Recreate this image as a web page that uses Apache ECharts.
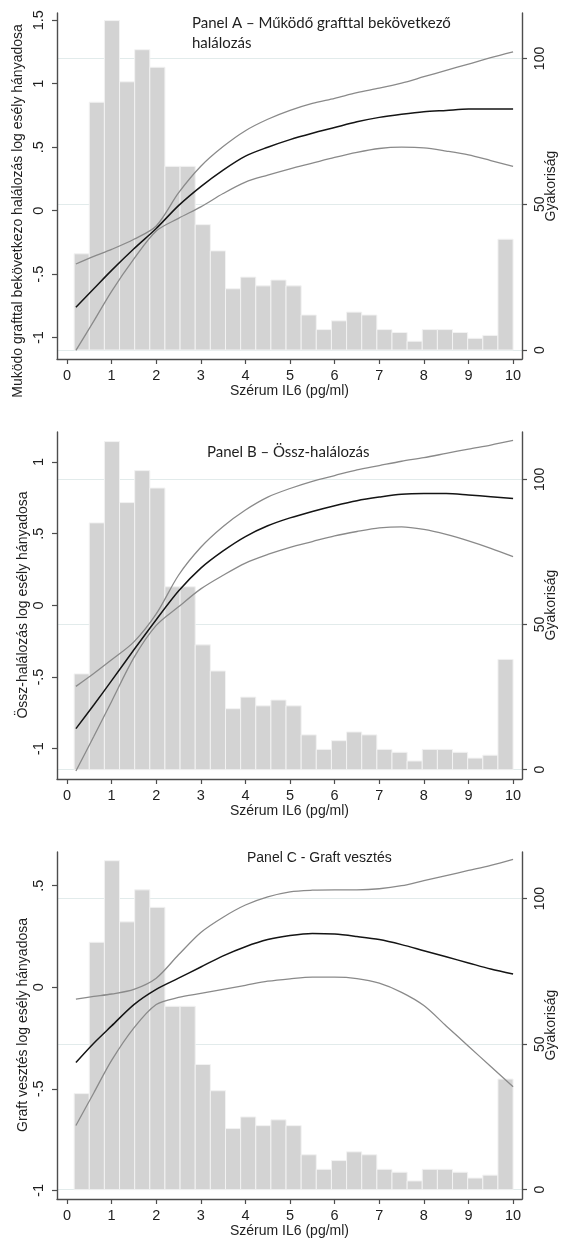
<!DOCTYPE html>
<html>
<head>
<meta charset="utf-8">
<script src="https://cdn.jsdelivr.net/npm/echarts@6/dist/echarts.min.js"></script>
<style>
  html, body { margin: 0; padding: 0; background: #ffffff; }
  #chart { width: 561px; height: 1241px; }
</style>
</head>
<body>
<div id="chart"></div>
<script>
// Serum IL-6 values (pg/ml) at which the spline estimates are given
const il6Grid = [0.2, 0.6, 1, 1.5, 2, 2.5, 3, 3.5, 4, 4.5, 5, 5.5, 6, 6.5, 7, 7.5, 8, 8.5, 9, 9.5, 10];

// Panel A – death with functioning graft: log odds ratio with 95% CI
const panelAFit   = [-0.76, -0.615, -0.47, -0.30, -0.14, 0.04, 0.19, 0.32, 0.43, 0.50, 0.56, 0.61, 0.655, 0.70, 0.735, 0.76, 0.78, 0.79, 0.80, 0.80, 0.80];
const panelAUpper = [-0.42, -0.36, -0.305, -0.225, -0.12, 0.14, 0.35, 0.505, 0.63, 0.72, 0.79, 0.845, 0.885, 0.93, 0.965, 1.005, 1.055, 1.105, 1.155, 1.205, 1.25];
const panelALower = [-1.10, -0.87, -0.635, -0.38, -0.16, -0.06, 0.03, 0.135, 0.225, 0.28, 0.33, 0.375, 0.42, 0.46, 0.49, 0.50, 0.495, 0.47, 0.44, 0.395, 0.35];

// Panel B – all-cause mortality
const panelBFit   = [-0.86, -0.695, -0.525, -0.31, -0.10, 0.10, 0.26, 0.38, 0.48, 0.555, 0.61, 0.655, 0.695, 0.73, 0.755, 0.775, 0.78, 0.78, 0.77, 0.758, 0.745];
const panelBUpper = [-0.565, -0.475, -0.38, -0.255, -0.06, 0.21, 0.405, 0.55, 0.665, 0.755, 0.815, 0.865, 0.905, 0.945, 0.975, 1.005, 1.03, 1.06, 1.09, 1.118, 1.15];
const panelBLower = [-1.155, -0.915, -0.67, -0.365, -0.14, -0.01, 0.115, 0.21, 0.295, 0.355, 0.405, 0.445, 0.485, 0.515, 0.54, 0.548, 0.53, 0.495, 0.45, 0.398, 0.34];

// Panel C – graft loss
const panelCFit   = [-0.37, -0.275, -0.19, -0.085, -0.01, 0.045, 0.10, 0.155, 0.20, 0.235, 0.255, 0.265, 0.262, 0.25, 0.235, 0.21, 0.18, 0.15, 0.12, 0.09, 0.065];
const panelCUpper = [-0.058, -0.045, -0.033, -0.01, 0.045, 0.16, 0.27, 0.345, 0.405, 0.445, 0.47, 0.478, 0.48, 0.48, 0.485, 0.50, 0.525, 0.55, 0.575, 0.60, 0.63];
const panelCLower = [-0.68, -0.52, -0.36, -0.20, -0.085, -0.05, -0.03, -0.01, 0.01, 0.03, 0.042, 0.05, 0.05, 0.043, 0.02, -0.025, -0.09, -0.19, -0.29, -0.39, -0.49];

// Histogram of serum IL-6 (same sample in every panel): 29 equal bins from 0.16 to 10
const histStart = 0.16;
const histEnd = 10;
const histCounts = [33, 85, 113, 92, 103, 97, 63, 63, 43, 34, 21, 25, 22, 24, 22, 12, 7, 10, 13, 12, 7, 6, 3, 7, 7, 6, 4, 5, 38];

// Tick labels
const xTicks = [0, 1, 2, 3, 4, 5, 6, 7, 8, 9, 10];
const freqTicks = [0, 50, 100];
const panelATicks = [-1, -0.5, 0, 0.5, 1, 1.5];
const panelBTicks = [-1, -0.5, 0, 0.5, 1];
const panelCTicks = [-1, -0.5, 0, 0.5];

const panelTitles = ['Panel A – Működő grafttal bekövetkező\nhalálozás', 'Panel B – Össz-halálozás', 'Panel C - Graft vesztés'];
const leftAxisTitles = ['Muködo grafttal bekövetkezo halálozás log esély hányadosa', 'Össz-halálozás log esély hányadosa', 'Graft vesztés log esély hányadosa'];
const rightAxisTitle = 'Gyakoriság';
const xAxisTitle = 'Szérum IL6 (pg/ml)';

const FONT = '"Liberation Sans", Arial, sans-serif';
const AXIS_COLOR = '#4d4d4d';
const TEXT_COLOR = '#1e1e1e';
const GRID_COLOR = '#e2ebeb';

const panels = [
  { fit: panelAFit, upper: panelAUpper, lower: panelALower, ticks: panelATicks,
    grid: { top: 13, bottom: 882 }, yRange: [-1.168, 1.557], fRange: [-3.09, 115.6] },
  { fit: panelBFit, upper: panelBUpper, lower: panelBLower, ticks: panelBTicks,
    grid: { top: 432, bottom: 462 }, yRange: [-1.211, 1.209], fRange: [-3.2, 116.3] },
  { fit: panelCFit, upper: panelCUpper, lower: panelCLower, ticks: panelCTicks,
    grid: { top: 852, bottom: 42 }, yRange: [-1.042, 0.666], fRange: [-3.2, 116.0] }
];

// Stata-style numbers: ".5" and "-.5"
function stataNum(v) {
  return String(v).replace(/^0\./, '.').replace(/^-0\./, '-.');
}

const binWidth = (histEnd - histStart) / histCounts.length;
const histData = histCounts.map((c, k) => [histStart + k * binWidth, histStart + (k + 1) * binWidth, c]);

const grids = [], xAxes = [], yAxes = [], series = [];

panels.forEach((p, i) => {
  grids.push({ left: 57, right: 39, top: p.grid.top, bottom: p.grid.bottom, containLabel: false });

  xAxes.push({
    type: 'value', gridIndex: i, min: -0.224, max: 10.2,
    name: xAxisTitle, nameLocation: 'middle', nameGap: 25,
    nameTextStyle: { fontFamily: FONT, fontSize: 14, color: TEXT_COLOR },
    axisLine: { show: true, onZero: false, lineStyle: { color: AXIS_COLOR, width: 1.4 } },
    axisTick: { show: true, customValues: xTicks, length: 5, lineStyle: { color: AXIS_COLOR, width: 1.2 } },
    axisLabel: { customValues: xTicks, fontFamily: FONT, fontSize: 14.5, color: TEXT_COLOR, margin: 9 },
    splitLine: { show: false }
  });

  yAxes.push({
    type: 'value', gridIndex: i, position: 'left', min: p.yRange[0], max: p.yRange[1],
    axisLine: { show: true, onZero: false, lineStyle: { color: AXIS_COLOR, width: 1.4 } },
    axisTick: { show: true, customValues: p.ticks, length: 5, lineStyle: { color: AXIS_COLOR, width: 1.2 } },
    axisLabel: { customValues: p.ticks, rotate: 90, margin: 11, fontFamily: FONT, fontSize: 14.5,
                 color: TEXT_COLOR, formatter: stataNum },
    splitLine: { show: false }
  });

  yAxes.push({
    type: 'value', gridIndex: i, position: 'right', min: p.fRange[0], max: p.fRange[1],
    axisLine: { show: true, onZero: false, lineStyle: { color: AXIS_COLOR, width: 1.4 } },
    axisTick: { show: true, customValues: freqTicks, length: 5, lineStyle: { color: AXIS_COLOR, width: 1.2 } },
    axisLabel: { customValues: freqTicks, rotate: 90, margin: 11, fontFamily: FONT, fontSize: 14,
                 color: TEXT_COLOR },
    splitLine: { show: false }
  });

  // histogram bars, with the frequency grid lines behind them
  series.push({
    type: 'custom', xAxisIndex: i, yAxisIndex: 2 * i + 1, data: histData,
    encode: { x: [0, 1], y: 2 }, z: 1, silent: true,
    renderItem: function (params, api) {
      const a = api.coord([api.value(0), api.value(2)]);
      const b = api.coord([api.value(1), 0]);
      return { type: 'rect', shape: { x: a[0], y: a[1], width: b[0] - a[0], height: b[1] - a[1] },
               style: { fill: '#d3d3d3', stroke: '#f2f2f2', lineWidth: 1 } };
    },
    markLine: {
      silent: true, symbol: 'none', z: 0, label: { show: false },
      lineStyle: { color: GRID_COLOR, width: 1.2, type: 'solid' },
      data: freqTicks.map(v => ({ yAxis: v }))
    }
  });

  const lineCommon = { type: 'line', xAxisIndex: i, yAxisIndex: 2 * i, smooth: 0.3,
                       showSymbol: false, silent: true, z: 5 };
  series.push(Object.assign({}, lineCommon, {
    data: il6Grid.map((x, k) => [x, p.upper[k]]), lineStyle: { color: '#8a8a8a', width: 1.3 } }));
  series.push(Object.assign({}, lineCommon, {
    data: il6Grid.map((x, k) => [x, p.lower[k]]), lineStyle: { color: '#8a8a8a', width: 1.3 } }));
  series.push(Object.assign({}, lineCommon, {
    data: il6Grid.map((x, k) => [x, p.fit[k]]), lineStyle: { color: '#141414', width: 1.5 } }));
});

// panel titles and rotated axis titles
const graphics = [];
const titleSpecs = [
  { x: 192, y: 13, font: '15px Lato, "Open Sans", sans-serif' },
  { x: 207, y: 442, font: '15px Lato, "Open Sans", sans-serif' },
  { x: 247, y: 848, font: '14px ' + FONT }
];
titleSpecs.forEach((t, i) => {
  graphics.push({ type: 'text', x: t.x, y: t.y, silent: true,
    style: { text: panelTitles[i], font: t.font, fill: TEXT_COLOR, lineHeight: 20,
             align: 'left', verticalAlign: 'top' } });
});
const leftTitlePos = [[18, 211], [23, 605], [23, 1025]];
leftTitlePos.forEach((pos, i) => {
  graphics.push({ type: 'text', x: pos[0], y: pos[1], rotation: Math.PI / 2, silent: true,
    style: { text: leftAxisTitles[i], font: '14px ' + FONT, fill: TEXT_COLOR,
             align: 'center', verticalAlign: 'middle' } });
});
[186, 605, 1025].forEach(cy => {
  graphics.push({ type: 'text', x: 551, y: cy, rotation: Math.PI / 2, silent: true,
    style: { text: rightAxisTitle, font: '14px ' + FONT, fill: TEXT_COLOR,
             align: 'center', verticalAlign: 'middle' } });
});

const chart = echarts.init(document.getElementById('chart'), null, { renderer: 'canvas' });
chart.setOption({
  animation: false,
  backgroundColor: '#ffffff',
  grid: grids,
  xAxis: xAxes,
  yAxis: yAxes,
  series: series,
  graphic: graphics
});
</script>
</body>
</html>
